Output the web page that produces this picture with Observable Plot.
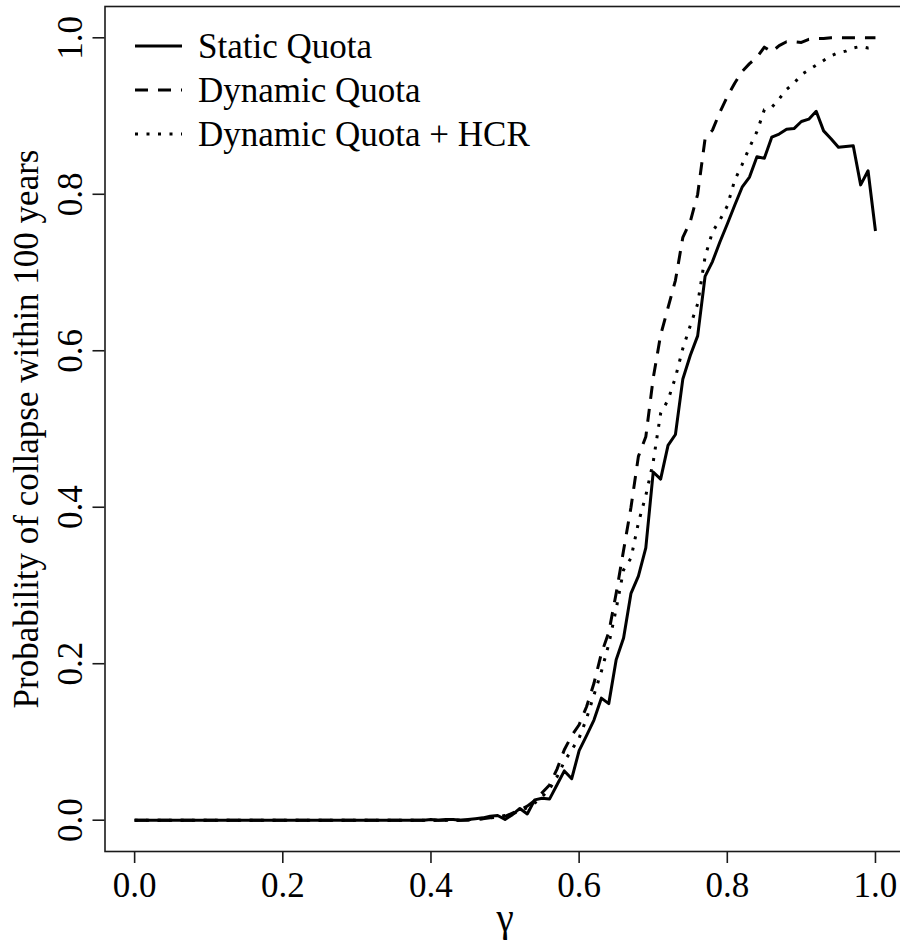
<!DOCTYPE html>
<html>
<head>
<meta charset="utf-8">
<script src="https://cdn.jsdelivr.net/npm/d3@7"></script>
<script src="https://cdn.jsdelivr.net/npm/@observablehq/plot@0.6"></script>
<style>
  html, body { margin: 0; padding: 0; background: white; overflow: hidden; }
  #wrap { position: relative; width: 900px; height: 947px; overflow: hidden; }
  #wrap svg { font-family: 'Liberation Serif', 'Times New Roman', serif; }
  #legend { position: absolute; left: 0; top: 0; pointer-events: none; }
</style>
</head>
<body>
<div id="wrap"></div>
<script>
// ---- data ----
const gamma = [
  0.00,0.01,0.02,0.03,0.04,0.05,0.06,0.07,0.08,0.09,
  0.10,0.11,0.12,0.13,0.14,0.15,0.16,0.17,0.18,0.19,
  0.20,0.21,0.22,0.23,0.24,0.25,0.26,0.27,0.28,0.29,
  0.30,0.31,0.32,0.33,0.34,0.35,0.36,0.37,0.38,0.39,
  0.40,0.41,0.42,0.43,0.44,0.45,0.46,0.47,0.48,0.49,
  0.50,0.51,0.52,0.53,0.54,0.55,0.56,0.57,0.58,0.59,
  0.60,0.61,0.62,0.63,0.64,0.65,0.66,0.67,0.68,0.69,
  0.70,0.71,0.72,0.73,0.74,0.75,0.76,0.77,0.78,0.79,
  0.80,0.81,0.82,0.83,0.84,0.85,0.86,0.87,0.88,0.89,
  0.90,0.91,0.92,0.93,0.94,0.95,0.96,0.97,0.98,0.99,
  1.00
];
const staticQuota = [
  0,0,0,0,0,0,0,0,0,0,
  0,0,0,0,0,0,0,0,0,0,
  0,0,0,0,0,0,0,0,0,0,
  0,0,0,0,0,0,0,0,0,0,
  0.001,0,0.001,0.001,0,0.001,0.002,0.003,0.005,0.006,
  0.001,0.007,0.015,0.008,0.026,0.028,0.027,0.045,0.063,0.053,
  0.089,0.108,0.128,0.156,0.149,0.205,0.233,0.290,0.312,0.348,
  0.445,0.436,0.479,0.493,0.564,0.594,0.619,0.695,0.714,0.739,
  0.762,0.786,0.809,0.822,0.848,0.846,0.873,0.877,0.883,0.884,
  0.893,0.896,0.906,0.881,0.871,0.860,0.861,0.862,0.812,0.830,
  0.753
];
const dynamicQuota = [
  0,0,0,0,0,0,0,0,0,0,
  0,0,0,0,0,0,0,0,0,0,
  0,0,0,0,0,0,0,0,0,0,
  0,0,0,0,0,0,0,0,0,0,
  0,0,0,0,0,0,0.001,0.002,0.003,0.004,
  0.005,0.009,0.013,0.018,0.025,0.035,0.045,0.065,0.090,0.108,
  0.122,0.145,0.175,0.213,0.240,0.290,0.345,0.400,0.465,0.490,
  0.565,0.620,0.655,0.690,0.745,0.765,0.800,0.871,0.882,0.905,
  0.925,0.942,0.957,0.967,0.975,0.988,0.982,0.990,0.995,0.995,
  0.994,0.998,0.999,0.999,1,1,1,1,1,1,
  1
];
const dynamicHCR = [
  0,0,0,0,0,0,0,0,0,0,
  0,0,0,0,0,0,0,0,0,0,
  0,0,0,0,0,0,0,0,0,0,
  0,0,0,0,0,0,0,0,0,0,
  0,0,0,0,0,0.001,0.001,0.002,0.003,0.004,
  0.006,0.008,0.012,0.016,0.022,0.030,0.040,0.055,0.075,0.090,
  0.105,0.130,0.160,0.190,0.225,0.270,0.320,0.335,0.380,0.415,
  0.458,0.520,0.537,0.566,0.603,0.632,0.660,0.720,0.752,0.767,
  0.785,0.818,0.838,0.860,0.880,0.908,0.911,0.922,0.934,0.942,
  0.953,0.959,0.965,0.971,0.977,0.981,0.983,0.987,0.989,0.987,
  0.988
];
const seriesNames = ["Static Quota", "Dynamic Quota", "Dynamic Quota + HCR"];
const xTicks = [0, 0.2, 0.4, 0.6, 0.8, 1.0];
const yTicks = [0, 0.2, 0.4, 0.6, 0.8, 1.0];
const xTitle = "\u03B3";
const yTitle = "Probability of collapse within 100 years";

// ---- build table ----
const seriesValues = [staticQuota, dynamicQuota, dynamicHCR];
const rows = [];
seriesNames.forEach((name, k) => {
  gamma.forEach((g, i) => rows.push({series: name, g, p: seriesValues[k][i]}));
});

const FONT = "'Liberation Serif', 'Times New Roman', serif";
const FS = 35;
const dash = {"Static Quota": null, "Dynamic Quota": "13,10", "Dynamic Quota + HCR": "3,8.5"};

const chart = Plot.plot({
  width: 900,
  height: 947,
  marginLeft: 104.5,
  marginRight: -4.6,
  marginTop: 6,
  marginBottom: 96,
  style: `font-family: ${FONT}; font-size: ${FS}px; background: white; overflow: hidden; max-width: none; color: black;`,
  x: {domain: [-0.04, 1.04]},
  y: {domain: [-0.04, 1.04]},
  marks: [
    Plot.frame({stroke: "#1a1a1a", strokeWidth: 1.6}),
    Plot.axisX({ticks: xTicks, tickSize: 12, tickPadding: 9, tickFormat: d => d.toFixed(1),
                fontSize: FS, fontFamily: FONT, strokeWidth: 1.6, stroke: "#1a1a1a", fill: "black", label: null}),
    Plot.axisY({ticks: yTicks, tickSize: 12, tickFormat: () => "", strokeWidth: 1.6, stroke: "#1a1a1a", label: null}),
    Plot.text(yTicks, {y: d => d, text: d => d.toFixed(1), frameAnchor: "left", dx: -34,
                       rotate: -90, textAnchor: "middle", lineAnchor: "middle",
                       fontSize: FS, fontFamily: FONT, fill: "black"}),
    Plot.text([xTitle], {text: d => d, frameAnchor: "bottom", lineAnchor: "bottom", dy: 79,
                         fontSize: FS + 4, fontFamily: FONT, fill: "black"}),
    Plot.text([yTitle], {text: d => d, frameAnchor: "left", dx: -78, rotate: -90, textAnchor: "middle",
                         lineAnchor: "middle", fontSize: FS, fontFamily: FONT, fill: "black"}),
    ...seriesNames.map(name => Plot.line(rows.filter(r => r.series === name), {
      x: "g", y: "p", stroke: "black", strokeWidth: 3, strokeLinejoin: "round",
      strokeLinecap: "butt", strokeDasharray: dash[name]
    }))
  ]
});
const wrap = document.getElementById("wrap");
wrap.appendChild(chart);

// ---- legend overlay (top-left, inside the panel) ----
const ns = "http://www.w3.org/2000/svg";
const leg = document.createElementNS(ns, "svg");
leg.setAttribute("id", "legend");
leg.setAttribute("width", 900);
leg.setAttribute("height", 947);
const rowY = [46, 90, 134];
seriesNames.forEach((name, i) => {
  const ln = document.createElementNS(ns, "line");
  ln.setAttribute("x1", 135); ln.setAttribute("x2", 182);
  ln.setAttribute("y1", rowY[i]); ln.setAttribute("y2", rowY[i]);
  ln.setAttribute("stroke", "black"); ln.setAttribute("stroke-width", 3);
  if (dash[name]) ln.setAttribute("stroke-dasharray", dash[name]);
  leg.appendChild(ln);
  const t = document.createElementNS(ns, "text");
  t.setAttribute("x", 198); t.setAttribute("y", rowY[i] + 12);
  t.setAttribute("font-family", FONT); t.setAttribute("font-size", FS);
  t.setAttribute("fill", "black");
  t.textContent = name;
  leg.appendChild(t);
});
wrap.appendChild(leg);
</script>
</body>
</html>
